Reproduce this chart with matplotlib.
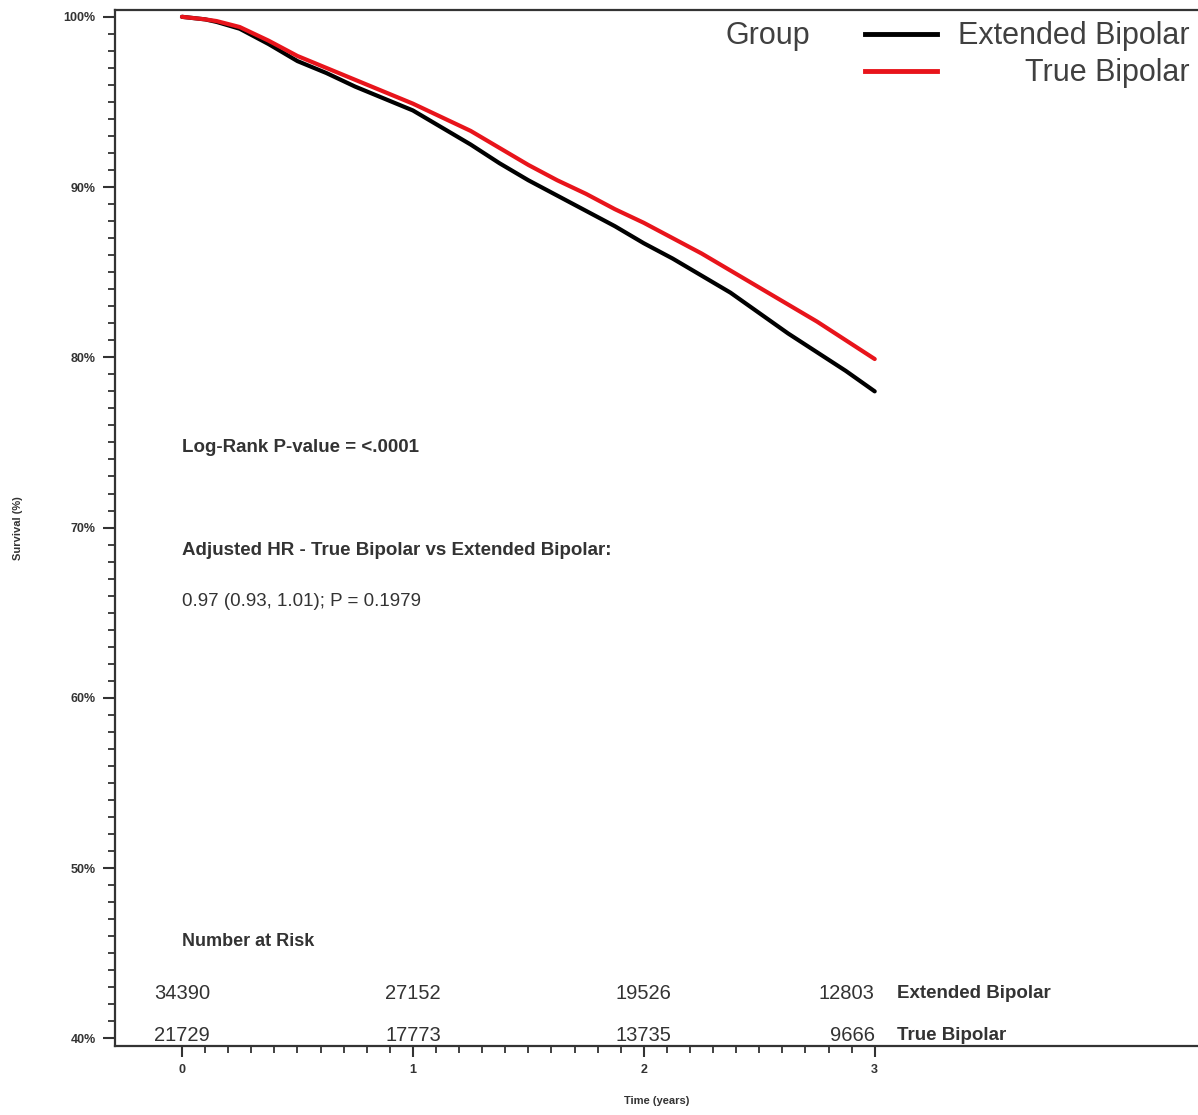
import numpy as np
import matplotlib
matplotlib.use("Agg")
import matplotlib.pyplot as plt
from matplotlib.lines import Line2D
from matplotlib.ticker import FuncFormatter

# survival curves (time in years, survival in %)
time_pts = [0, 0.1, 0.15, 0.25, 0.375, 0.5, 0.625, 0.75, 0.875, 1.0, 1.125, 1.25, 1.375, 1.5,
            1.625, 1.75, 1.875, 2.0, 2.125, 2.25, 2.375, 2.5, 2.625, 2.75, 2.875, 3.0]
extended_surv = [100, 99.85, 99.7, 99.3, 98.4, 97.4, 96.7, 95.9, 95.2, 94.5, 93.5, 92.5, 91.4, 90.4,
                 89.5, 88.6, 87.7, 86.7, 85.8, 84.8, 83.8, 82.6, 81.4, 80.3, 79.2, 78.0]
true_surv = [100, 99.85, 99.75, 99.4, 98.6, 97.7, 97.0, 96.3, 95.6, 94.9, 94.1, 93.3, 92.3, 91.3,
             90.4, 89.6, 88.7, 87.9, 87.0, 86.1, 85.1, 84.1, 83.1, 82.1, 81.0, 79.9]

groups = ["Extended Bipolar", "True Bipolar"]
colors = ["black", "#e8141b"]

# number at risk table
risk_times = [0, 1, 2, 3]
risk_extended = [34390, 27152, 19526, 12803]
risk_true = [21729, 17773, 13735, 9666]

y_ticks = [40, 50, 60, 70, 80, 90, 100]
x_ticks = [0, 1, 2, 3]

plt.rcParams["font.family"] = ["Liberation Sans", "DejaVu Sans"]
txt_col = "#333333"

fig = plt.figure(figsize=(11.98, 11.15), dpi=100)
ax = fig.add_axes([115 / 1198, 1 - 1046 / 1115, (1198 - 115) / 1198, (1046 - 10) / 1115])

ax.plot(time_pts, extended_surv, color=colors[0], lw=3.0, solid_capstyle="round")
ax.plot(time_pts, true_surv, color=colors[1], lw=3.0, solid_capstyle="round")

ax.set_xlim(-0.29, 4.40)
ax.set_ylim(39.55, 100.4)

ax.set_yticks(y_ticks)
ax.set_yticks(np.arange(40, 101, 1), minor=True)
ax.yaxis.set_major_formatter(FuncFormatter(lambda v, p: "%d%%" % v))
ax.set_xticks(x_ticks)
ax.set_xticks(np.arange(0, 3.01, 0.1), minor=True)

for s in ["left", "bottom", "top"]:
    ax.spines[s].set_linewidth(1.6)
    ax.spines[s].set_color("#333333")
ax.spines["right"].set_visible(False)

ax.tick_params(axis="y", which="major", length=9, width=1.5, pad=5, labelsize=9, colors="#333333")
ax.tick_params(axis="y", which="minor", length=5, width=1.3, colors="#333333")
ax.tick_params(axis="x", which="major", length=8, width=1.5, pad=5, labelsize=9, colors="#333333")
ax.tick_params(axis="x", which="minor", length=5, width=1.3, colors="#333333")
for lab in ax.get_xticklabels() + ax.get_yticklabels():
    lab.set_fontweight("bold")

ax.set_ylabel("Survival (%)", fontsize=8, fontweight="bold", color=txt_col)
ax.yaxis.set_label_coords(-0.085, 0.5)
ax.set_xlabel("Time (years)", fontsize=8, fontweight="bold", color=txt_col, va="top")
ax.xaxis.set_label_coords(0.5, -0.048)

# statistics text
ax.text(0, 74.68, "Log-Rank P-value = <.0001", fontsize=13.5, fontweight="bold", color=txt_col, va="center")
ax.text(0, 68.63, "Adjusted HR - True Bipolar vs Extended Bipolar:", fontsize=13.5, fontweight="bold",
        color=txt_col, va="center")
ax.text(0, 65.63, "0.97 (0.93, 1.01); P = 0.1979", fontsize=13.5, color=txt_col, va="center")

# number at risk
ax.text(0, 45.71, "Number at Risk", fontsize=13, fontweight="bold", color=txt_col, va="center")
for i, t in enumerate(risk_times):
    ha = "right" if i == len(risk_times) - 1 else "center"
    ax.text(t, 42.66, str(risk_extended[i]), fontsize=14.5, color=txt_col, ha=ha, va="center")
    ax.text(t, 40.19, str(risk_true[i]), fontsize=14.5, color=txt_col, ha=ha, va="center")
ax.text(3.095, 42.66, groups[0], fontsize=13.5, fontweight="bold", color=txt_col, va="center")
ax.text(3.095, 40.19, groups[1], fontsize=13.5, fontweight="bold", color=txt_col, va="center")

# legend drawn by hand (title on the left, labels right aligned)
W, H = 1198, 1115
fig.text(810 / W, 1 - 36 / H, "Group", fontsize=22, color="#404040", ha="right", va="center")
for k, yy in enumerate([34, 71]):
    fig.add_artist(Line2D([865 / W, 937 / W], [1 - yy / H, 1 - yy / H], color=colors[k], lw=3.5,
                          transform=fig.transFigure))
    fig.text(1190 / W, 1 - (yy + 2) / H, groups[k], fontsize=22, color="#404040", ha="right", va="center")

fig.savefig("out.png", dpi=100)
